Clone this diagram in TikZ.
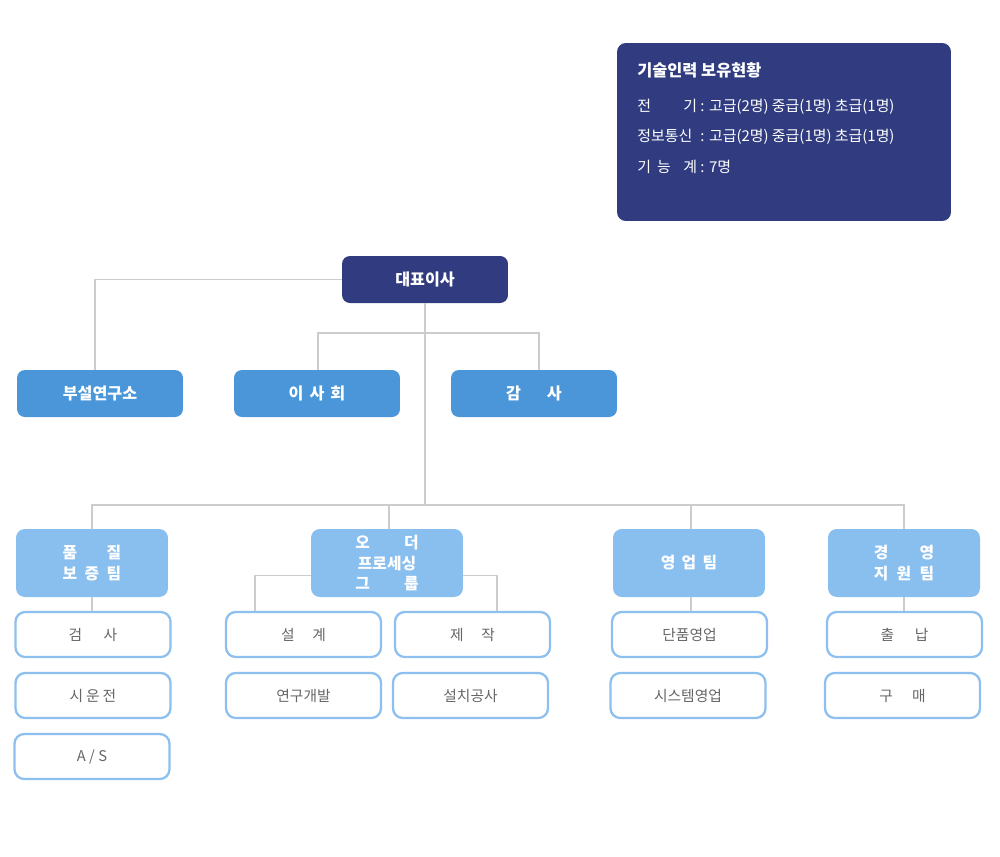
\documentclass[tikz,border=0pt]{standalone}
\usepackage{fontspec}
\setmainfont{Noto Sans CJK KR}
\definecolor{navy}{HTML}{303C7F}
\definecolor{midblue}{HTML}{4A96D8}
\definecolor{lightblue}{HTML}{89BFEE}
\definecolor{subline}{HTML}{8DC0EE}
\definecolor{linkgray}{HTML}{CCCCCC}
\definecolor{subtext}{HTML}{666666}

\begin{document}
\begin{tikzpicture}[x=0.02cm,y=-0.02cm,
  boss/.style={fill=navy,rounded corners=4.5pt,minimum width=3.32cm,minimum height=0.94cm,text=white,font=\fontsize{9.2}{11}\selectfont\bfseries},
  staff/.style={boss,fill=midblue},
  team/.style={fill=lightblue,rounded corners=5pt,minimum width=3.04cm,minimum height=1.36cm,text=white,align=center,font=\fontsize{9}{12.4}\selectfont\bfseries},
  sub/.style={draw=subline,line width=1.3pt,fill=white,rounded corners=5.5pt,minimum width=3.1cm,minimum height=0.9cm,text=subtext,font=\fontsize{8.4}{10}\selectfont},
  infotext/.style={anchor=west,inner sep=0pt,text=white,font=\fontsize{8.5}{10}\selectfont},
  link/.style={draw=linkgray,line width=1.1pt}]
\useasboundingbox (0,0) rectangle (1000,856);

\node[fill=navy,rounded corners=5pt,minimum width=6.68cm,minimum height=3.56cm] (info) at (784,132) {};
\node[infotext,font=\fontsize{9.3}{11}\selectfont\bfseries] (infohead) at (637,70) {기술인력 보유현황};
\node[infotext] (infoelec) at (637,107) {\makebox[4em][s]{전\hfill 기} : 고급(2명) 중급(1명) 초급(1명)};
\node[infotext] (infocomm) at (637,137) {\makebox[4em][s]{정보통신} : 고급(2명) 중급(1명) 초급(1명)};
\node[infotext] (infoskill) at (637,167) {\makebox[4em][s]{기\hspace{0.4em}능\hfill 계} : 7명};

\node[boss] (ceo) at (425,279.5) {대표이사};
\node[staff] (lab) at (100,393.5) {부설연구소};
\node[staff] (board) at (317,393.5) {이\hspace{0.37em}사\hspace{0.37em}회};
\node[staff] (audit) at (534,393.5) {감\hspace{1.6em}사};

\node[team] (quality) at (92,563) {\makebox[3.7em][s]{품\hfill 질}\\\makebox[3.7em][s]{보\hfill 증\hfill 팀}};
\node[team,font=\fontsize{9}{11.6}\selectfont\bfseries] (order) at (387,563) {\makebox[4em][s]{오\hfill 더}\\프로세싱\\\makebox[4em][s]{그\hfill 룹}};
\node[team] (sales) at (689,563) {영\hspace{0.4em}업\hspace{0.4em}팀};
\node[team] (admin) at (904,563) {\makebox[3.8em][s]{경\hfill 영}\\\makebox[3.8em][s]{지\hfill 원\hfill 팀}};

\node[sub] (inspect) at (93,634.5) {검\hspace{1.45em}사};
\node[sub] (trial) at (93,695.5) {시\hspace{0.2em}운\hspace{0.2em}전};
\node[sub] (service) at (92,756.5) {A~/~S};
\node[sub] (design) at (303.5,634.5) {설\hspace{1.2em}계};
\node[sub] (research) at (303.5,695.5) {연구개발};
\node[sub] (make) at (472.5,634.5) {제\hspace{1.2em}작};
\node[sub] (install) at (470.5,695.5) {설치공사};
\node[sub] (unit) at (689.5,634.5) {단품영업};
\node[sub] (system) at (688,695.5) {시스템영업};
\node[sub] (cash) at (904.5,634.5) {출\hspace{1.4em}납};
\node[sub] (purchase) at (902.5,695.5) {구\hspace{1.3em}매};

\coordinate (split) at (425,333);
\coordinate (bus) at (425,505);
\draw[link] (ceo.west) -| ([xshift=-0.1cm]lab.north);
\draw[link] (ceo.south) -- (bus);
\draw[link] ([xshift=0.02cm]board.north) |- (split) -| ([xshift=0.1cm]audit.north);
\draw[link] (quality.north) |- (bus) -| (admin.north);
\draw[link] ([xshift=0.04cm]order.north) -- ([xshift=0.04cm]order.north |- bus);
\draw[link] ([xshift=0.04cm]sales.north) -- ([xshift=0.04cm]sales.north |- bus);
\draw[link] (quality.south) -- (quality.south |- inspect.north);
\draw[link] ([yshift=-0.25cm]order.west) -| ([xshift=-0.97cm]design.north);
\draw[link] ([yshift=-0.25cm]order.east) -| ([xshift=0.49cm]make.north);
\draw[link] ([xshift=0.04cm]sales.south) -- ([xshift=0.04cm]sales.south |- unit.north);
\draw[link] (admin.south) -- (admin.south |- cash.north);
\end{tikzpicture}
\end{document}
